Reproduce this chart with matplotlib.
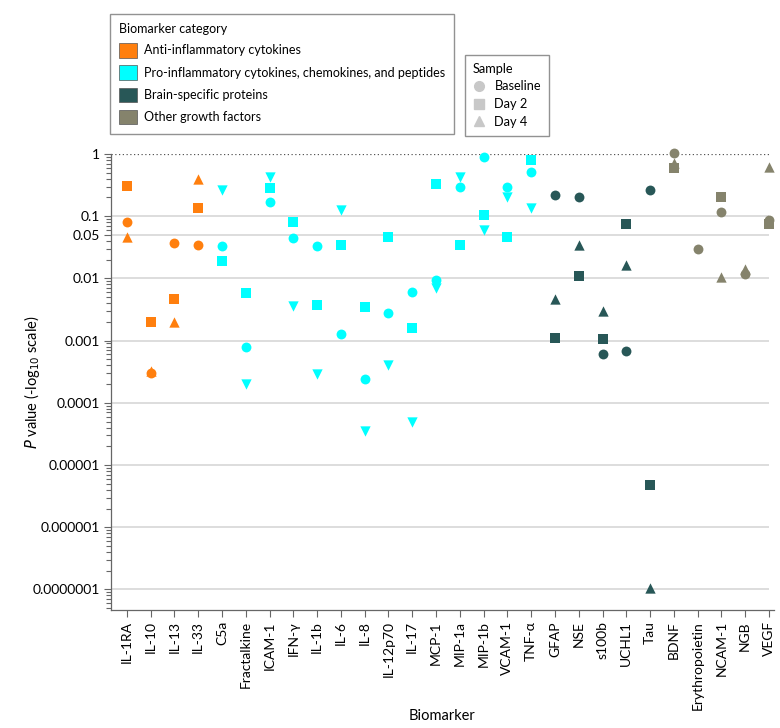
import numpy as np
import matplotlib
matplotlib.use("Agg")
import matplotlib.pyplot as plt
from matplotlib.patches import Patch
from matplotlib.lines import Line2D
from matplotlib.ticker import FixedLocator, LogLocator, NullFormatter

plt.rcParams['font.family'] = ['Lato', 'DejaVu Sans']

categories = ['IL-1RA', 'IL-10', 'IL-13', 'IL-33', 'C5a', 'Fractalkine', 'ICAM-1',
              'IFN-γ', 'IL-1b', 'IL-6', 'IL-8', 'IL-12p70', 'IL-17', 'MCP-1',
              'MIP-1a', 'MIP-1b', 'VCAM-1', 'TNF-α', 'GFAP', 'NSE', 's100b',
              'UCHL1', 'Tau', 'BDNF', 'Erythropoietin', 'NCAM-1', 'NGB', 'VEGF']
groups = ['anti'] * 4 + ['pro'] * 14 + ['brain'] * 5 + ['other'] * 5

nan = np.nan
baseline = [0.08, 0.0003, 0.037, 0.034, 0.033, 0.00079, 0.167, 0.044, 0.033, 0.0013,
            0.00024, 0.0028, 0.006, 0.0095, 0.30, 0.88, 0.30, 0.51, 0.216, 0.2,
            0.00062, 0.00067, 0.26, 1.03, 0.030, 0.117, 0.0116, 0.088]
day2 = [0.31, 0.002, 0.0046, 0.137, 0.019, 0.0059, 0.28, 0.081, 0.0038, 0.034,
        0.0035, 0.046, 0.0016, 0.33, 0.035, 0.104, 0.047, 0.80, 0.0011, 0.011,
        0.00105, 0.074, 4.8e-6, 0.59, nan, 0.2, nan, 0.075]
day4 = [0.047, 0.00033, 0.002, 0.40, 0.26, 0.0002, 0.42, 0.0036, 0.00029, 0.127,
        0.0000356, 0.0004, 0.00005, 0.007, 0.43, 0.061, 0.206, 0.134, 0.0046, 0.035,
        0.003, 0.0164, 1.06e-7, 0.72, nan, 0.0104, 0.014, 0.62]

ytick_values = [1, 0.1, 0.05, 0.01, 0.001, 0.0001, 0.00001, 0.000001, 0.0000001]
ytick_labels = ['1', '0.1', '0.05', '0.01', '0.001', '0.0001', '0.00001', '0.000001', '0.0000001']

group_colors = {'anti': '#FF7F0E', 'pro': '#00FFFF', 'brain': '#285757', 'other': '#85836C'}
group_labels = {'anti': 'Anti-inflammatory cytokines',
                'pro': 'Pro-inflammatory cytokines, chemokines, and peptides',
                'brain': 'Brain-specific proteins',
                'other': 'Other growth factors'}

fig = plt.figure(figsize=(7.8, 7.28), dpi=100)
ax = fig.add_axes([111 / 780, 1 - 610 / 728, (774 - 111) / 780, (610 - 154) / 728])
ax.set_yscale('log')
ax.set_ylim(10 ** (-7.33), 1)
ax.set_xlim(-0.666, 27.21)

# grid lines
for v in ytick_values[1:]:
    ax.hlines(v, -0.666, 27, color='#DDDDDD', lw=1.4, zorder=0)
ax.hlines(1, -0.666, 27, color='#555555', lw=0.9, linestyles=(0, (1, 2)), zorder=0)

x = np.arange(len(categories))
cols = [group_colors[g] for g in groups]
ms = 48
for i in range(len(categories)):
    c = cols[i]
    tri = 'v' if groups[i] == 'pro' else '^'
    ax.scatter(x[i], day2[i], marker='s', s=ms * 0.95, color=c, lw=0, zorder=3, clip_on=False)
    ax.scatter(x[i], day4[i], marker=tri, s=ms * 1.15, color=c, lw=0, zorder=4, clip_on=False)
    ax.scatter(x[i], baseline[i], marker='o', s=ms * 1.05, color=c, lw=0, zorder=5, clip_on=False)

ax.set_xticks(x)
ax.set_xticklabels(categories, rotation=90, fontsize=10)
ax.yaxis.set_major_locator(FixedLocator(ytick_values))
ax.set_yticklabels(ytick_labels, fontsize=10)
ax.yaxis.set_minor_locator(LogLocator(base=10, subs=np.arange(2, 10), numticks=20))
ax.yaxis.set_minor_formatter(NullFormatter())
ax.tick_params(axis='both', which='major', length=5, color='#666666', width=0.8, pad=3)
ax.tick_params(axis='y', which='minor', length=3.5, color='#666666', width=0.8)

for s in ['top', 'right']:
    ax.spines[s].set_visible(False)
for s in ['left', 'bottom']:
    ax.spines[s].set_color('#666666')
    ax.spines[s].set_linewidth(0.9)

ax.set_xlabel('Biomarker', fontsize=10.5)
ax.xaxis.set_label_coords(0.5, -0.217)
ax.set_ylabel('$\\it{P}$ value (-log$_{10}$ scale)', fontsize=10.5)
ax.yaxis.set_label_coords(-0.104, 0.5)

# legends
h1 = [Patch(facecolor=group_colors[g], edgecolor='#555555', lw=0.5, label=group_labels[g])
      for g in ['anti', 'pro', 'brain', 'other']]
leg1 = fig.legend(handles=h1, title='Biomarker category', loc='upper left',
                  bbox_to_anchor=(110 / 780, 1 - 14 / 728), bbox_transform=fig.transFigure,
                  borderaxespad=0, fancybox=False, edgecolor='#777777', fontsize=9.0,
                  title_fontsize=9.0, alignment='left', handlelength=1.4, handleheight=1.4,
                  handletextpad=0.55, labelspacing=0.62, borderpad=0.75)
leg1.get_frame().set_linewidth(1.0)

lg = '#C8C8C8'
h2 = [Line2D([], [], marker='o', color=lg, ls='', ms=7, label='Baseline'),
      Line2D([], [], marker='s', color=lg, ls='', ms=6.5, label='Day 2'),
      Line2D([], [], marker='^', color=lg, ls='', ms=7.5, label='Day 4')]
leg2 = fig.legend(handles=h2, title='Sample', loc='upper left',
                  bbox_to_anchor=(465 / 780, 1 - 55 / 728), bbox_transform=fig.transFigure,
                  borderaxespad=0, fancybox=False, edgecolor='#777777', fontsize=9.2,
                  title_fontsize=9.2, alignment='left', handlelength=1.0,
                  handletextpad=0.7, labelspacing=0.45, borderpad=0.6)
leg2.get_frame().set_linewidth(1.0)

fig.savefig('out.png', dpi=100)
